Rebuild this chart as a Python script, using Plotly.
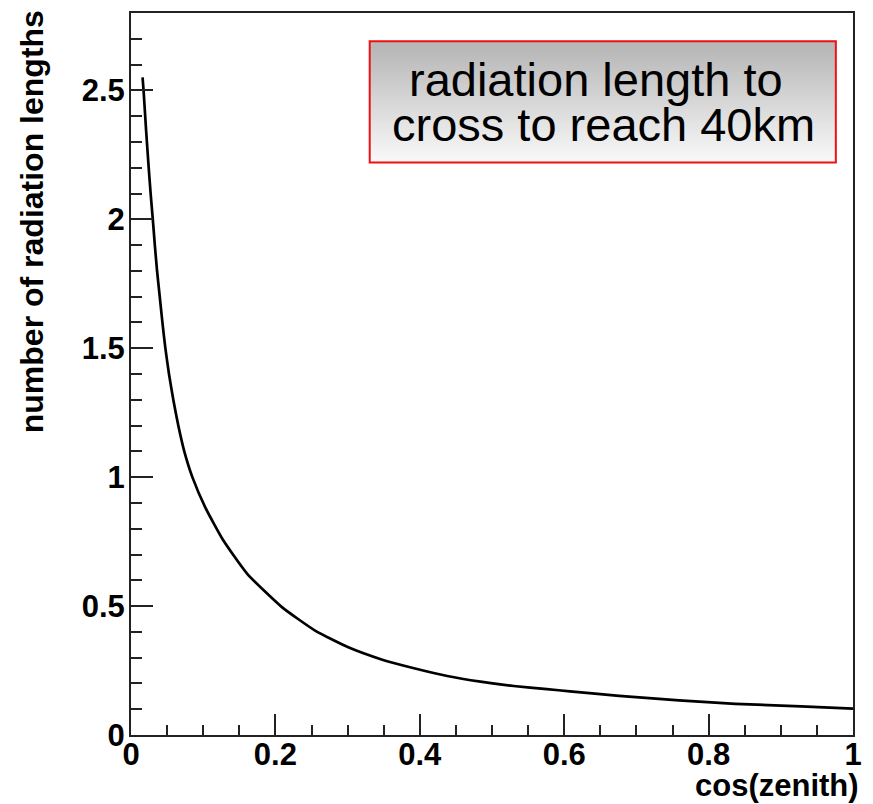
import plotly.graph_objects as go

# data
cos_zenith = [0.0160, 0.0174, 0.0208, 0.0245, 0.0272, 0.0302, 0.0330, 0.0361, 0.0398, 0.0435,
              0.0476, 0.0526, 0.0586, 0.0655, 0.0738, 0.0850, 0.1030, 0.128, 0.161, 0.209,
              0.255, 0.301, 0.347, 0.392, 0.438, 0.484, 0.530, 0.576, 0.608, 0.676,
              0.759, 0.837, 0.928, 1.0]
n_rad_lengths = [2.55, 2.50, 2.35, 2.20, 2.10, 2.00, 1.90, 1.80, 1.70, 1.60,
                 1.50, 1.40, 1.30, 1.20, 1.10, 1.00, 0.882, 0.754, 0.625, 0.496,
                 0.405, 0.340, 0.293, 0.259, 0.229, 0.207, 0.190, 0.178, 0.169, 0.152,
                 0.134, 0.121, 0.111, 0.102]

x_ticks = [0, 0.2, 0.4, 0.6, 0.8, 1]
x_tick_labels = ["0", "0.2", "0.4", "0.6", "0.8", "1"]
y_ticks = [0, 0.5, 1, 1.5, 2, 2.5]
y_tick_labels = ["0", "0.5", "1", "1.5", "2", "2.5"]

x_title = "cos(zenith)"
y_title = "number of radiation lengths"
box_lines = ["radiation length to", "cross to reach 40km"]

W, H = 873, 804
L, R, T, B = 131, 14, 11, 69
pw, ph = W - L - R, H - T - B

def px_to_paper_x(px):
    return (px - L) / pw

def px_to_paper_y(py):
    return (H - B - py) / ph

FONT = "Liberation Sans, Arial, Helvetica, sans-serif"

fig = go.Figure()
fig.add_trace(go.Scatter(x=cos_zenith, y=n_rad_lengths, mode="lines",
                         line=dict(color="black", width=2.7, shape="spline", smoothing=0.5),
                         showlegend=False, hoverinfo="skip"))

axis_common = dict(showline=True, linecolor="#222222", linewidth=2, mirror=True,
                   ticks="inside", tickcolor="#222222", tickwidth=1.5,
                   showgrid=False, zeroline=False,
                   tickfont=dict(family=FONT, size=31, color="black", weight="bold"))

fig.update_xaxes(range=[0, 1], tickvals=x_ticks, ticktext=x_tick_labels, ticklen=21,
                 ticklabelstandoff=-9,
                 minor=dict(dtick=0.05, ticklen=10, ticks="inside", tickcolor="#222222", tickwidth=1.5),
                 **axis_common)
fig.update_yaxes(range=[0, 2.8], tickvals=y_ticks, ticktext=y_tick_labels, ticklen=22,
                 ticklabelstandoff=-2,
                 minor=dict(dtick=0.1, ticklen=11, ticks="inside", tickcolor="#222222", tickwidth=1.5),
                 **axis_common)

# gradient box
bx0, bx1, by0, by1 = 371.7, 841.7, 39.3, 161.0
n = 60
shapes = []
for i in range(n):
    t = i / (n - 1)
    v = int(round(180 + (249 - 180) * t))
    ya = by0 + (by1 - by0) * i / n
    yb = by0 + (by1 - by0) * (i + 1) / n + 0.6
    shapes.append(dict(type="rect", xref="paper", yref="paper",
                       x0=px_to_paper_x(bx0), x1=px_to_paper_x(bx1),
                       y0=px_to_paper_y(min(yb, by1)), y1=px_to_paper_y(ya),
                       fillcolor=f"rgb({v},{v},{v})", line=dict(width=0)))
shapes.append(dict(type="rect", xref="paper", yref="paper",
                   x0=px_to_paper_x(bx0), x1=px_to_paper_x(bx1),
                   y0=px_to_paper_y(by1), y1=px_to_paper_y(by0),
                   line=dict(color="#ee1111", width=2), fillcolor="rgba(0,0,0,0)"))

annotations = [
    dict(text=box_lines[0], xref="paper", yref="paper", x=px_to_paper_x(600), y=px_to_paper_y(77.5),
         xanchor="center", yanchor="middle", showarrow=False,
         font=dict(family=FONT, size=47, color="black")),
    dict(text=box_lines[1], xref="paper", yref="paper", x=px_to_paper_x(607), y=px_to_paper_y(122.5),
         xanchor="center", yanchor="middle", showarrow=False,
         font=dict(family=FONT, size=47, color="black")),
    dict(text=x_title, xref="paper", yref="paper", x=px_to_paper_x(867), y=px_to_paper_y(805),
         xanchor="right", yanchor="bottom", showarrow=False,
         font=dict(family=FONT, size=31, color="black", weight="bold")),
    dict(text=y_title, xref="paper", yref="paper", x=px_to_paper_x(32), y=px_to_paper_y(220),
         xanchor="center", yanchor="middle", showarrow=False, textangle=-90,
         font=dict(family=FONT, size=32, color="black", weight="bold")),
]

fig.update_layout(width=W, height=H, margin=dict(l=L, r=R, t=T, b=B, pad=0),
                  paper_bgcolor="white", plot_bgcolor="white",
                  shapes=shapes, annotations=annotations)

fig.write_html("out.html")
